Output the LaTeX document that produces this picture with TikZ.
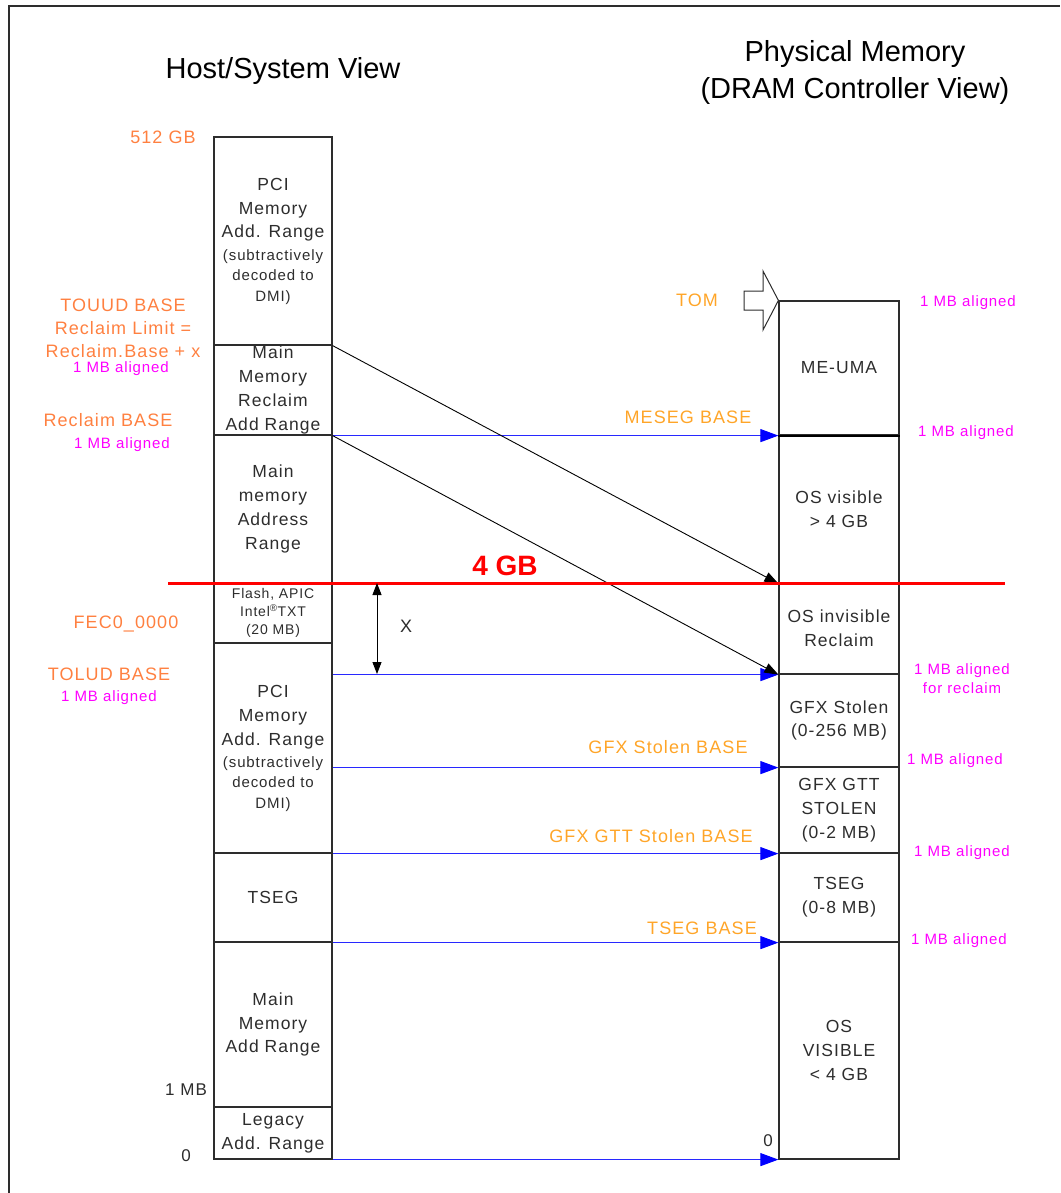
\documentclass[tikz,border=0pt]{standalone}
\usepackage{fontspec}
\setmainfont{Liberation Sans}
\newfontfamily\lsfont{Liberation Sans}[LetterSpace=6]
\usetikzlibrary{arrows.meta}
\definecolor{orangeL}{RGB}{255,128,64}
\definecolor{orangeR}{RGB}{255,165,40}
\definecolor{mag}{RGB}{255,0,255}
\definecolor{bgray}{RGB}{45,45,45}
\definecolor{lineblue}{RGB}{40,40,255}
\begin{document}
\begin{tikzpicture}[x=1pt,y=-1pt,
  seg/.style={draw=bgray, line width=1.2pt, inner sep=0pt, align=center, text=bgray, font=\lsfont\fontsize{17.5}{23.7}\selectfont},
  lseg/.style={seg, minimum width=118pt},
  rseg/.style={seg, minimum width=120pt},
  smalltxt/.style={align=center, text=bgray, font=\lsfont\fontsize{15}{20.5}\selectfont, inner sep=0pt},
  olab/.style={text=orangeL, font=\lsfont\fontsize{18}{23}\selectfont, align=center, inner sep=0pt},
  orlab/.style={olab, text=orangeR},
  mlab/.style={text=mag, font=\lsfont\fontsize{15}{19}\selectfont, align=center, inner sep=0pt},
  klab/.style={text=bgray, font=\lsfont\fontsize{17}{20}\selectfont, inner sep=0pt},
  titletxt/.style={font=\fontsize{29}{37}\selectfont, align=center, inner sep=0pt},
  bluearr/.style={draw=lineblue, line width=1pt, -{Triangle[length=18pt,width=13pt,color=blue]}},
  blackarr/.style={draw=black, line width=0.9pt, -{Triangle[length=14pt,width=10pt]}},
]
\useasboundingbox (0,0) rectangle (1060,1193);
% frame
\draw[line width=1.5pt, bgray] (9,1193) -- (9,6) -- (1060,6);

% titles
\node[titletxt] (t1) at (283,71) {Host/System View};
\node[titletxt] (t2) at (855,72) {Physical Memory\\(DRAM Controller View)};

% left column
\node[lseg, minimum height=208pt] (L1) at (273,241) {};
\node[seg, draw=none] (L1a) at (273,210) {PCI\\Memory\\Add. Range};
\node[smalltxt] (L1b) at (273,277) {(subtractively\\decoded to\\DMI)};
\node[lseg, minimum height=90pt] (L2) at (273,390) {Main\\Memory\\Reclaim\\Add Range};
\node[lseg, minimum height=148pt] (L3) at (273,509) {Main\\memory\\Address\\Range};
\node[lseg, minimum height=60pt, font=\lsfont\fontsize{14}{18}\selectfont] (L4) at (273,613) {Flash, APIC\\Intel\textsuperscript{\textregistered}TXT\\(20 MB)};
\node[lseg, minimum height=210pt] (L5) at (273,748) {};
\node[seg, draw=none] (L5a) at (273,717) {PCI\\Memory\\Add. Range};
\node[smalltxt] (L5b) at (273,784) {(subtractively\\decoded to\\DMI)};
\node[lseg, minimum height=89pt] (L6) at (273,897.5) {TSEG};
\node[lseg, minimum height=165pt] (L7) at (273,1024.5) {Main\\Memory\\Add Range};
\node[lseg, minimum height=52pt] (L8) at (273,1133) {Legacy\\Add. Range};

% right column
\node[rseg, minimum height=134pt] (R1) at (839,368) {ME-UMA};
\node[rseg, minimum height=148pt] (R2) at (839,509) {OS visible\\> 4 GB};
\node[rseg, minimum height=91pt] (R3) at (839,628.5) {OS invisible\\Reclaim};
\node[rseg, minimum height=93pt] (R4) at (839,720.5) {GFX Stolen\\(0-256 MB)};
\node[rseg, minimum height=86pt] (R5) at (839,810) {GFX GTT\\STOLEN\\(0-2 MB)};
\node[rseg, minimum height=89pt] (R6) at (839,897.5) {TSEG\\(0-8 MB)};
\node[rseg, minimum height=217pt] (R7) at (839,1050.5) {OS\\VISIBLE\\< 4 GB};
\draw[line width=2pt, black] (R1.south west) -- (R1.south east);

% TOM arrow
\draw[line width=1pt, draw=bgray, fill=white] (744,291) -- (763,291) -- (763,271) -- (R1.north west) -- (763,330) -- (763,310) -- (744,310) -- cycle;

% left labels
\node[olab] (l512) at (163,137) {512 GB};
\node[olab] (ltouud) at (123,328) {TOUUD BASE\\Reclaim Limit =\\Reclaim.Base + x};
\node[mlab] (lm1) at (121,369) {1 MB aligned};
\node[olab] (lrb) at (108,420) {Reclaim BASE};
\node[mlab] (lm2) at (122,445) {1 MB aligned};
\node[olab] (lfec) at (126,624) {FEC0\_0000};
\node[olab] (ltolud) at (109,674) {TOLUD BASE};
\node[mlab] (lm3) at (109,698) {1 MB aligned};
\node[klab] (l1mb) at (186,1090) {1 MB};
\node[klab] (l0) at (186,1156) {0};

% right labels
\node[orlab] (rtom) at (697,300) {TOM};
\node[orlab] (rmeseg) at (688,417) {MESEG BASE};
\node[orlab] (rgfx) at (668,747) {GFX Stolen BASE};
\node[orlab] (rgtt) at (651,836) {GFX GTT Stolen BASE};
\node[orlab] (rtseg) at (702,928) {TSEG BASE};
\node[klab] (r0) at (768,1141) {0};
\node[mlab] (rm1) at (968,303) {1 MB aligned};
\node[mlab] (rm2) at (966,433) {1 MB aligned};
\node[mlab] (rm3) at (962,678.5) {1 MB aligned\\for reclaim};
\node[mlab] (rm4) at (955,761) {1 MB aligned};
\node[mlab] (rm5) at (962,853) {1 MB aligned};
\node[mlab] (rm6) at (959,941) {1 MB aligned};

% connectors
\draw[bluearr] (L2.south east) -- (R1.south west);
\draw[bluearr] (L5.east |- R3.south) -- (R3.south west);
\draw[bluearr] (L5.east |- R4.south) -- (R4.south west);
\draw[bluearr] (L5.south east) -- (R5.south west);
\draw[bluearr] (L6.south east) -- (R6.south west);
\draw[bluearr] (L8.south east) -- (R7.south west);
\draw[blackarr] (L1.south east) -- (R2.south west);
\draw[blackarr] (L2.south east) -- (R3.south west);

% 4 GB line
\coordinate (redL) at (168,583);
\coordinate (redR) at (1005,583);
\draw[red, line width=3pt] (redL) -- (redR);
\node[text=red, font=\bfseries\fontsize{28}{30}\selectfont, inner sep=0pt] (fourgb) at (505,566) {4 GB};

% X dimension
\coordinate (xa) at (377,583);
\coordinate (xb) at (377,674);
\draw[black, line width=0.9pt, {Triangle[length=12pt,width=9pt]}-{Triangle[length=12pt,width=9pt]}] (xa) -- (xb);
\node[klab, font=\lsfont\fontsize{18}{20}\selectfont] (xlab) at (406,626) {X};
\end{tikzpicture}
\end{document}
